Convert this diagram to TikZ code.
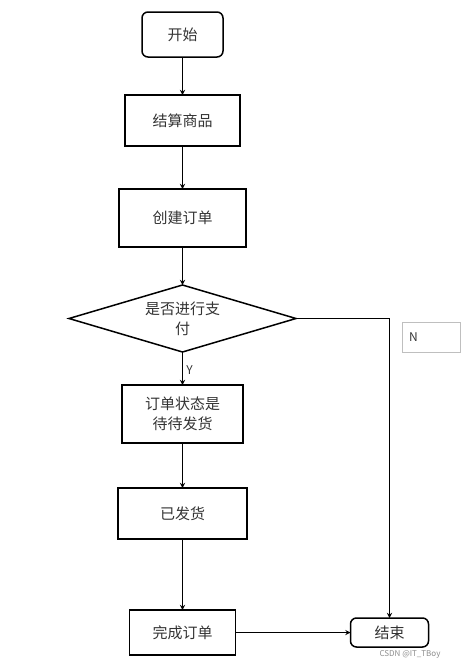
\documentclass[tikz,border=0pt]{standalone}
\usepackage{fontspec}
\setmainfont{Noto Sans CJK SC}
\usetikzlibrary{calc, shapes, positioning, arrows}
\tikzset{basic/.style={draw, line width=1.5pt, outer sep=0pt, text=black!80, font=\fontsize{15}{20}\selectfont}}
\tikzset{terminal/.style={basic, rectangle, rounded corners=6pt}}
\tikzset{process/.style={basic, rectangle}}
\tikzset{decision/.style={basic, diamond, aspect=3.4, inner sep=0pt, align=center}}
\tikzset{>=stealth}

\begin{document}
\begin{tikzpicture}[x=1pt, y=-1pt]
    \useasboundingbox (0,0) rectangle (469,665);

    \node[terminal, minimum width=81pt, minimum height=45pt] (start) at (182.5,34.5) {开始};
    \node[process, minimum width=115pt, minimum height=51pt, below=38pt of start] (settle) {结算商品};
    \node[process, minimum width=127pt, minimum height=58pt, below=43pt of settle] (create) {创建订单};
    \node[decision, minimum width=227pt, minimum height=67pt, below=38pt of create] (pay) {是否进行支\\付};
    \node[process, minimum width=121pt, minimum height=58pt, align=center, below=33pt of pay] (state) {订单状态是\\待待发货};
    \node[process, minimum width=129pt, minimum height=51pt, below=45pt of state] (ship) {已发货};
    \node[process, minimum width=106pt, minimum height=45pt, below=71pt of ship] (finish) {完成订单};
    \node[terminal, minimum width=78pt, minimum height=29pt, right=115pt of finish] (end) {结束};

    \node[draw=black!25, line width=0.6pt, text=black!80, font=\fontsize{12}{12}\selectfont,
          minimum width=58pt, minimum height=30pt, text width=44pt, align=left] (nlabel) at (431,337) {N};
    \node[text=black!45, font=\fontsize{8}{8}\selectfont, inner sep=1pt] (mark) at (410,654) {CSDN @IT\_TBoy};

    \draw[->, line width=1.3pt] (start) -- (settle);
    \draw[->, line width=1.3pt] (settle) -- (create);
    \draw[->, line width=1.3pt] (create) -- (pay);
    \draw[->, line width=1.3pt] (pay) -- node[right, pos=0.55, font=\fontsize{12}{12}\selectfont, text=black!80] {Y} (state);
    \draw[->, line width=1.3pt] (state) -- (ship);
    \draw[->, line width=1.3pt] (ship) -- (finish);
    \draw[->, line width=1.3pt] (finish) -- (end);
    \draw[->, line width=1.3pt] (pay.east) -| (end.north);

\end{tikzpicture}
\end{document}
